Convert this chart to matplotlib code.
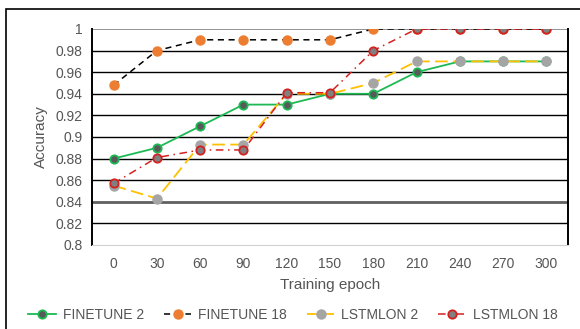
import matplotlib.pyplot as plt
from matplotlib.patches import Rectangle

plt.rcParams["font.family"] = ["Liberation Sans", "DejaVu Sans"]

epochs = ["0", "30", "60", "90", "120", "150", "180", "210", "240", "270", "300"]
finetune_2 = [0.88, 0.89, 0.91, 0.93, 0.93, 0.94, 0.94, 0.96, 0.97, 0.97, 0.97]
finetune_18 = [0.948, 0.98, 0.99, 0.99, 0.99, 0.99, 1.0, 1.0, 1.0, 1.0, 1.0]
lstmlon_2 = [0.855, 0.843, 0.893, 0.893, 0.94, 0.94, 0.95, 0.97, 0.97, 0.97, 0.97]
lstmlon_18 = [0.857, 0.881, 0.888, 0.888, 0.941, 0.941, 0.98, 1.0, 1.0, 1.0, 1.0]
y_ticks = [0.8, 0.82, 0.84, 0.86, 0.88, 0.9, 0.92, 0.94, 0.96, 0.98, 1.0]

W, H = 580, 329
fig = plt.figure(figsize=(W / 100, H / 100), dpi=100)
fig.patches.append(Rectangle((6 / W, -0.1), 1.2, 1 - 9 / H + 0.1, transform=fig.transFigure,
                             fill=False, edgecolor="black", linewidth=1.2))

ax = fig.add_axes([92 / W, 1 - 245 / H, (568 - 92) / W, (245 - 29) / H])
x = list(range(len(epochs)))

# horizontal grid
for t in y_ticks:
    if t == 0.8:
        continue
    if t == 0.84:
        ax.axhline(t, color="#606060", linewidth=2.0, zorder=1)
    elif t == 1.0:
        ax.axhline(t, color="#808080", linewidth=1.2, zorder=1)
    else:
        ax.axhline(t, color="black", linewidth=1.0, zorder=1)

ax.plot(x, finetune_18, color="black", linestyle=(0, (4, 3)), linewidth=1.1,
        marker="o", markersize=6.5, markerfacecolor="#ed7d31", markeredgecolor="#ed7d31",
        label="FINETUNE 18", zorder=3)
ax.plot(x, finetune_2, color="#1db954", linestyle="-", linewidth=1.3,
        marker="o", markersize=6, markerfacecolor="#595959", markeredgecolor="#1db954",
        markeredgewidth=1.3, label="FINETUNE 2", zorder=4)
ax.plot(x, lstmlon_2, color="#ffc000", linestyle=(0, (7, 3)), linewidth=1.3,
        marker="o", markersize=6.5, markerfacecolor="#a5a5a5", markeredgecolor="#a5a5a5",
        label="LSTMLON 2", zorder=5)
ax.plot(x, lstmlon_18, color="#d42020", linestyle=(0, (5, 3, 1, 3)), linewidth=1.1,
        marker="o", markersize=6, markerfacecolor="#808080", markeredgecolor="#d42020",
        markeredgewidth=1.3, label="LSTMLON 18", zorder=6)

ax.set_xlim(-0.5, len(epochs) - 0.5)
ax.set_ylim(0.8, 1.0)
ax.set_xticks(x)
ax.set_xticklabels(epochs)
ax.set_yticks(y_ticks)
ax.set_yticklabels(["0.8", "0.82", "0.84", "0.86", "0.88", "0.9", "0.92", "0.94", "0.96", "0.98", "1"])
ax.tick_params(length=0, labelsize=10, colors="#555555", pad=7)
ax.tick_params(axis="x", pad=9)
ax.spines["top"].set_visible(False)
ax.spines["bottom"].set_color("#d0d0d0")
ax.spines["left"].set_linewidth(1.4)
ax.spines["right"].set_linewidth(1.4)
ax.set_xlabel("Training epoch", fontsize=11, color="#555555", labelpad=5)
ax.set_ylabel("Accuracy", fontsize=11, color="#555555", labelpad=5)

handles, labels = ax.get_legend_handles_labels()
order = [1, 0, 2, 3]
fig.legend([handles[i] for i in order], [labels[i] for i in order], loc="center",
           bbox_to_anchor=(0.505, 1 - 315 / H), ncol=4, frameon=False, fontsize=10,
           handlelength=2.0, columnspacing=1.4, handletextpad=0.5, labelcolor="#555555")

fig.savefig("out.png", dpi=100)
